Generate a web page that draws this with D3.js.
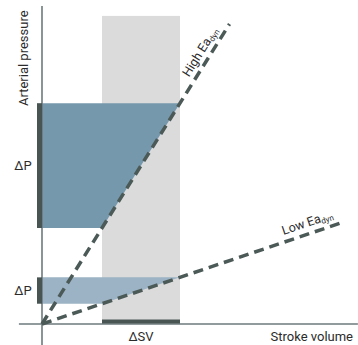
<!DOCTYPE html>
<html>
<head>
<meta charset="utf-8">
<style>
  body { margin: 0; background: #fff; }
  text { font-family: Roboto, "Open Sans", sans-serif; fill: #2b2b2b; }
</style>
</head>
<body>
<div id="chart"></div>
<script src="https://cdn.jsdelivr.net/npm/d3@7"></script>
<script>
// data (arbitrary units, origin = 0 stroke volume / 0 pressure)
var svDomain = [-7.7, 105.3];      // x axis extent
var pDomain = [-7, 106];           // y axis extent
var deltaSV = [20, 46];            // stroke volume change
var bandTop = 102.7;               // top of grey ΔSV column
var highEa = [[0, 0], [62.5, 100]];     // steep dashed line
var lowEa = [[0, 0], [99.7, 33.7]];     // flat dashed line
var labels = { high: ["High Ea", "dyn"], low: ["Low Ea", "dyn"] };
var axisTitles = ["Arterial pressure", "Stroke volume"];

var width = 358, height = 345;

var x = d3.scaleLinear().domain([0, 100]).range([42, 342]);
var y = d3.scaleLinear().domain([0, 100]).range([324, 24]);

var svg = d3.select("#chart").append("svg")
    .attr("width", width)
    .attr("height", height);

// pressure at a given stroke volume
function pAt(line, sv) {
    var s = (line[1][1] - line[0][1]) / (line[1][0] - line[0][0]);
    return line[0][1] + s * (sv - line[0][0]);
}

// grey column for ΔSV
svg.append("rect")
    .attr("x", x(deltaSV[0]))
    .attr("y", y(bandTop))
    .attr("width", x(deltaSV[1]) - x(deltaSV[0]))
    .attr("height", y(0) - y(bandTop))
    .attr("fill", "#dcdbdc");

// ΔP bands
var bands = [
  { line: highEa, fill: "#7698ad" },
  { line: lowEa, fill: "#9cb3c5" }
];
var poly = d3.line().x(function(d) { return x(d[0]); }).y(function(d) { return y(d[1]); });

bands.forEach(function(b) {
    var p0 = pAt(b.line, deltaSV[0]), p1 = pAt(b.line, deltaSV[1]);
    b.p0 = p0; b.p1 = p1;
    svg.append("path")
        .attr("d", poly([[0, p0], [deltaSV[0], p0], [deltaSV[1], p1], [0, p1]]) + "Z")
        .attr("fill", b.fill);
});

// axes
svg.append("line")
    .attr("x1", x(0)).attr("x2", x(0))
    .attr("y1", y(pDomain[1])).attr("y2", y(pDomain[0]))
    .attr("stroke", "#6c7a7e").attr("stroke-width", 1.6);
svg.append("line")
    .attr("x1", x(svDomain[0])).attr("x2", x(svDomain[1]))
    .attr("y1", y(0)).attr("y2", y(0))
    .attr("stroke", "#6c7a7e").attr("stroke-width", 1.6);

// dark markers on axes
bands.forEach(function(b) {
    svg.append("rect")
        .attr("x", x(0) - 5)
        .attr("y", y(b.p1))
        .attr("width", 5)
        .attr("height", y(b.p0) - y(b.p1))
        .attr("fill", "#485553");
});
svg.append("rect")
    .attr("x", x(deltaSV[0]))
    .attr("y", y(0) - 4.5)
    .attr("width", x(deltaSV[1]) - x(deltaSV[0]))
    .attr("height", 4)
    .attr("fill", "#485553");

// dashed Ea lines
[highEa, lowEa].forEach(function(l) {
    svg.append("path")
        .attr("d", poly(l))
        .attr("fill", "none")
        .attr("stroke", "#4b5957")
        .attr("stroke-width", 3.5)
        .attr("stroke-dasharray", "10,6");
});

// line labels, rotated along the line
function lineLabel(l, sv, off, parts) {
    var px = x(sv), py = y(pAt(l, sv));
    var ang = Math.atan2(y(l[1][1]) - y(l[0][1]), x(l[1][0]) - x(l[0][0]));
    var nx = Math.sin(ang) * off, ny = -Math.cos(ang) * off;
    var t = svg.append("text")
        .attr("transform", "translate(" + (px + nx) + "," + (py + ny) + ") rotate(" + (ang * 180 / Math.PI) + ")")
        .attr("text-anchor", "end")
        .style("font-size", "12.5px");
    t.append("tspan").text(parts[0]);
    t.append("tspan").attr("dy", 2).style("font-size", "8px").text(parts[1]);
}
lineLabel(highEa, 60.5, 6, labels.high);
lineLabel(lowEa, 98, 7, labels.low);

// ΔP labels
bands.forEach(function(b) {
    svg.append("text")
        .attr("x", 23)
        .attr("y", (y(b.p0) + y(b.p1)) / 2)
        .attr("dy", "0.35em")
        .attr("text-anchor", "middle")
        .style("font-size", "13px")
        .text("ΔP");
});

// ΔSV label
svg.append("text")
    .attr("x", (x(deltaSV[0]) + x(deltaSV[1])) / 2)
    .attr("y", 341)
    .attr("text-anchor", "middle")
    .style("font-size", "13px")
    .text("ΔSV");

// axis titles
svg.append("text")
    .attr("transform", "translate(28,106) rotate(-90)")
    .style("font-size", "13px")
    .text(axisTitles[0]);
svg.append("text")
    .attr("x", 353)
    .attr("y", 341)
    .attr("text-anchor", "end")
    .style("font-size", "13px")
    .text(axisTitles[1]);
</script>
</body>
</html>
